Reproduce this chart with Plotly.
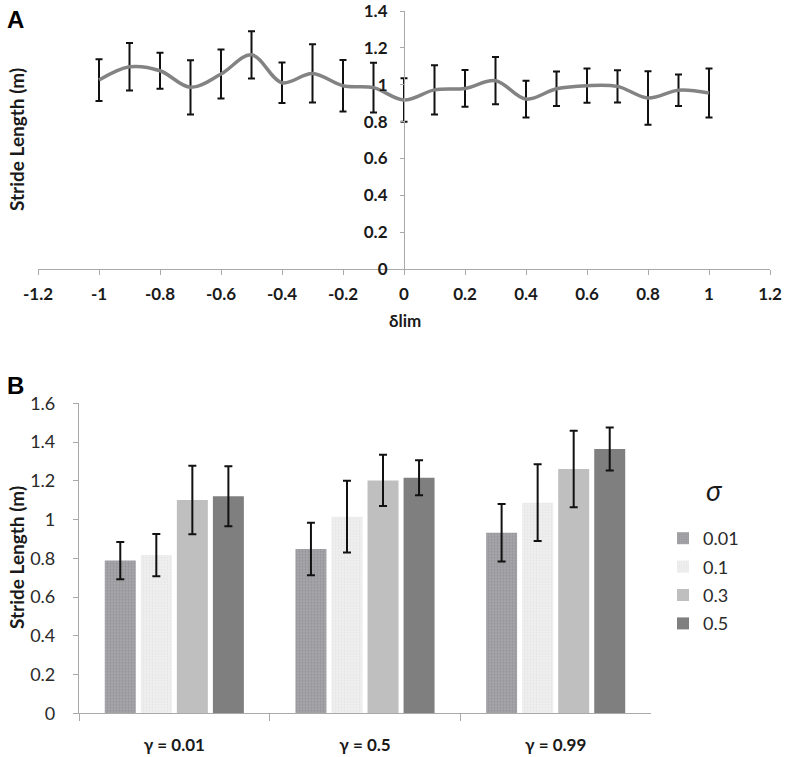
import plotly.graph_objects as go

W, H = 787, 757

# ---- Panel A data ----
delta_lim = [-1.0, -0.9, -0.8, -0.7, -0.6, -0.5, -0.4, -0.3, -0.2, -0.1, 0.0,
             0.1, 0.2, 0.3, 0.4, 0.5, 0.6, 0.7, 0.8, 0.9, 1.0]
stride_mean_a = [1.025, 1.097, 1.076, 0.986, 1.058, 1.162, 1.011, 1.061, 0.994, 0.984, 0.917,
                 0.972, 0.980, 1.022, 0.922, 0.978, 0.995, 0.991, 0.928, 0.970, 0.955]
stride_err_a = [0.113, 0.129, 0.098, 0.147, 0.133, 0.128, 0.110, 0.158, 0.140, 0.135, 0.118,
                0.133, 0.100, 0.128, 0.100, 0.094, 0.093, 0.088, 0.145, 0.086, 0.133]
xticks_a = [-1.2, -1.0, -0.8, -0.6, -0.4, -0.2, 0.0, 0.2, 0.4, 0.6, 0.8, 1.0, 1.2]
xticklabels_a = ["-1.2", "-1", "-0.8", "-0.6", "-0.4", "-0.2", "0", "0.2", "0.4", "0.6", "0.8", "1", "1.2"]
yticks_a = [0, 0.2, 0.4, 0.6, 0.8, 1.0, 1.2, 1.4]
yticklabels_a = ["0", "0.2", "0.4", "0.6", "0.8", "1", "1.2", "1.4"]

# ---- Panel B data ----
gamma_labels = ["γ = 0.01", "γ = 0.5", "γ = 0.99"]
sigma_labels = ["0.01", "0.1", "0.3", "0.5"]
mean_sigma_001 = [0.788, 0.848, 0.932]
err_sigma_001 = [0.096, 0.135, 0.148]
mean_sigma_01 = [0.817, 1.015, 1.087]
err_sigma_01 = [0.109, 0.185, 0.198]
mean_sigma_03 = [1.101, 1.202, 1.261]
err_sigma_03 = [0.177, 0.132, 0.197]
mean_sigma_05 = [1.120, 1.216, 1.364]
err_sigma_05 = [0.155, 0.090, 0.111]
yticks_b = [0, 0.2, 0.4, 0.6, 0.8, 1.0, 1.2, 1.4, 1.6]
yticklabels_b = ["0", "0.2", "0.4", "0.6", "0.8", "1", "1.2", "1.4", "1.6"]

FONT = "Lato"
AXIS_GRAY = "#a9a9a9"

fig = go.Figure()

fig.add_trace(go.Scatter(
    x=delta_lim, y=stride_mean_a, mode="lines",
    line=dict(color="#838383", width=3.5, shape="spline", smoothing=1.0),
    error_y=dict(type="data", array=stride_err_a, color="#111111", thickness=2, width=3.5),
    xaxis="x", yaxis="y", showlegend=False, hoverinfo="skip"))

bar_styles = [
    dict(color="#a4a4a8", pattern=dict(shape=".", bgcolor="#a6a6aa", fgcolor="#7e7e84", size=3, solidity=0.35)),
    dict(color="#ededed", pattern=dict(shape=".", bgcolor="#efefef", fgcolor="#dcdcdc", size=3, solidity=0.35)),
    dict(color="#bfbfbf"),
    dict(color="#7f7f7f"),
]
means = [mean_sigma_001, mean_sigma_01, mean_sigma_03, mean_sigma_05]
errs = [err_sigma_001, err_sigma_01, err_sigma_03, err_sigma_05]
for i, (lab, m, e) in enumerate(zip(sigma_labels, means, errs)):
    fig.add_trace(go.Bar(
        x=gamma_labels, y=m, name=lab,
        marker=dict(line=dict(width=0), **bar_styles[i]),
        error_y=dict(type="data", array=e, color="#111111", thickness=2, width=4),
        xaxis="x2", yaxis="y2", legendgroup=lab))

xa0, xa1 = 38 / W, 770 / W
ya0, ya1 = 1 - 269 / H, 1 - 11 / H
xb0, xb1 = 79 / W, 651 / W
yb0, yb1 = 1 - 713.3 / H, 1 - 403.3 / H

tick_a = dict(family=FONT, size=17, color="#1a1a1a", weight="bold")

fig.update_layout(
    width=W, height=H,
    margin=dict(l=0, r=0, t=0, b=0),
    paper_bgcolor="white", plot_bgcolor="white",
    font=dict(family=FONT, color="#1a1a1a"),
    bargap=0.244, bargroupgap=0.14,
    xaxis=dict(domain=[xa0, xa1], range=[-1.2, 1.2], tickvals=xticks_a, ticktext=xticklabels_a,
               showline=True, linecolor=AXIS_GRAY, linewidth=1.2, ticks="outside", ticklen=5,
               tickcolor=AXIS_GRAY, showgrid=False, zeroline=False, anchor="y",
               tickfont=tick_a, automargin=False, ticklabelstandoff=4,
               ticklabeloverflow="allow"),
    yaxis=dict(domain=[ya0, ya1], range=[0, 1.4], tickvals=yticks_a, ticktext=yticklabels_a,
               showline=True, linecolor=AXIS_GRAY, linewidth=1.2, ticks="outside", ticklen=4,
               tickcolor=AXIS_GRAY, showgrid=False, zeroline=False, anchor="free",
               position=(xa0 + xa1) / 2, tickfont=tick_a, automargin=False,
               ticklabelstandoff=9, ticklabeloverflow="allow"),
    xaxis2=dict(domain=[xb0, xb1], type="category", tickson="boundaries",
                showline=True, linecolor=AXIS_GRAY, linewidth=1.2, ticks="outside", ticklen=7,
                tickcolor=AXIS_GRAY, showgrid=False, zeroline=False, anchor="y2",
                tickfont=dict(family=FONT, size=17, color="#1a1a1a", weight="bold"),
                automargin=False, ticklabelstandoff=16, ticklabeloverflow="allow"),
    yaxis2=dict(domain=[yb0, yb1], range=[0, 1.6], tickvals=yticks_b, ticktext=yticklabels_b,
                showline=True, linecolor=AXIS_GRAY, linewidth=1.2, ticks="outside", ticklen=5,
                tickcolor=AXIS_GRAY, showgrid=False, zeroline=False, anchor="x2",
                tickfont=dict(family=FONT, size=18, color="#2a2a2a"), automargin=False,
                ticklabelstandoff=14, ticklabeloverflow="allow"),
    legend=dict(x=663 / W, y=1 - 520 / H, xanchor="left", yanchor="top",
                font=dict(family=FONT, size=18, color="#2a2a2a"),
                tracegroupgap=2, traceorder="grouped", bgcolor="rgba(0,0,0,0)"),
    annotations=[
        dict(text="<b>A</b>", x=5 / W, y=1 - 4 / H, xref="paper", yref="paper",
             xanchor="left", yanchor="top", showarrow=False,
             font=dict(family="Liberation Sans", size=24, color="black")),
        dict(text="<b>B</b>", x=5 / W, y=1 - 370 / H, xref="paper", yref="paper",
             xanchor="left", yanchor="top", showarrow=False,
             font=dict(family="Liberation Sans", size=24, color="black")),
        dict(text="<b>Stride Length (m)</b>", x=16 / W, y=1 - 140 / H, xref="paper", yref="paper",
             xanchor="center", yanchor="middle", textangle=-90, showarrow=False,
             font=dict(family=FONT, size=19, color="#1a1a1a")),
        dict(text="<b>Stride Length (m)</b>", x=16 / W, y=1 - 558 / H, xref="paper", yref="paper",
             xanchor="center", yanchor="middle", textangle=-90, showarrow=False,
             font=dict(family=FONT, size=19, color="#1a1a1a")),
        dict(text="<b>δlim</b>", x=405 / W, y=1 - 320 / H, xref="paper", yref="paper",
             xanchor="center", yanchor="middle", showarrow=False,
             font=dict(family=FONT, size=17, color="#1a1a1a")),
        dict(text="<i>σ</i>", x=714 / W, y=1 - 490 / H, xref="paper", yref="paper",
             xanchor="center", yanchor="middle", showarrow=False,
             font=dict(family=FONT, size=28, color="#1a1a1a")),
    ],
)

fig.write_html("out.html", config={"displayModeBar": False},
               post_script="document.body.style.margin='0';document.body.style.padding='0';")
